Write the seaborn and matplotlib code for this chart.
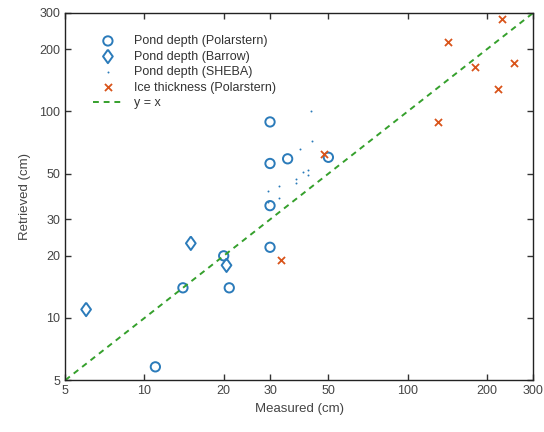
import numpy as np
import pandas as pd
import matplotlib
matplotlib.use("Agg")
import matplotlib.pyplot as plt
import seaborn as sns
from matplotlib.ticker import FixedLocator, FixedFormatter, NullLocator

# Pond depth (Polarstern)
polar_x = [11, 14, 21, 20, 30, 30, 30, 30, 35, 50]
polar_y = [5.8, 14, 14, 20, 22, 35, 56, 89, 59, 60]

# Pond depth (Barrow)
barrow_x = [6, 15, 20.5]
barrow_y = [11, 23, 18]

# Pond depth (SHEBA)
sheba_x = [43, 43.5, 39, 42, 42, 40, 37.5, 37.5, 32.5, 29.5, 32.5, 29.5]
sheba_y = [100, 72, 66, 52, 49, 51, 47, 45, 43.5, 41, 38, 36.5]

# Ice thickness (Polarstern)
ice_x = [33, 48, 142, 228, 180, 253, 221, 131]
ice_y = [19, 62, 218, 280, 165, 171, 129, 89]

line_x = [5, 300]
ticks = [5, 10, 20, 30, 50, 100, 200, 300]

blue = "#2b7bba"
orange = "#d9541a"
green = "#35a02c"

# slightly slim diamond, like the original marker
diamond = [(0, 1), (0.72, 0), (0, -1), (-0.72, 0), (0, 1)]

sns.set_style("ticks")
plt.rcParams["font.family"] = ["Liberation Sans", "DejaVu Sans"]

fig, ax = plt.subplots(figsize=(5.44, 4.32), dpi=100)

sns.scatterplot(x=polar_x, y=polar_y, marker="o", s=45, facecolor="none",
                edgecolor=blue, linewidth=1.4, label="Pond depth (Polarstern)", ax=ax)
sns.scatterplot(x=barrow_x, y=barrow_y, marker=diamond, s=95, facecolor="none",
                edgecolor=blue, linewidth=1.4, label="Pond depth (Barrow)", ax=ax)
sns.scatterplot(x=sheba_x, y=sheba_y, marker=".", s=8, color=blue,
                linewidth=0, label="Pond depth (SHEBA)", ax=ax)
sns.scatterplot(x=ice_x, y=ice_y, marker="x", s=26, color=orange,
                linewidth=1.3, label="Ice thickness (Polarstern)", ax=ax)
sns.lineplot(x=line_x, y=line_x, color=green, linestyle=(0, (3, 2.5)),
             linewidth=1.4, label="y = x", ax=ax)

ax.set_xscale("log")
ax.set_yscale("log")
ax.set_xlim(5, 300)
ax.set_ylim(5, 300)
for axis in (ax.xaxis, ax.yaxis):
    axis.set_major_locator(FixedLocator(ticks))
    axis.set_major_formatter(FixedFormatter([str(t) for t in ticks]))
    axis.set_minor_locator(NullLocator())

ax.tick_params(direction="in", top=True, right=True, length=4, width=1,
               labelsize=9, colors="#333333", labelcolor="#444444")
for sp in ax.spines.values():
    sp.set_visible(True)
    sp.set_linewidth(1)
    sp.set_color("#222222")

ax.set_xlabel("Measured (cm)", fontsize=9.5, color="#444444")
ax.set_ylabel("Retrieved (cm)", fontsize=9.5, color="#444444", labelpad=6)

leg = ax.legend(loc="upper left", frameon=False, fontsize=9,
                bbox_to_anchor=(0.035, 0.97), handlelength=2.4,
                handletextpad=0.9, labelspacing=0.28)
for t in leg.get_texts():
    t.set_color("#333333")

fig.subplots_adjust(left=0.12, right=0.98, bottom=0.12, top=0.97)
fig.savefig("out.png", dpi=100)
